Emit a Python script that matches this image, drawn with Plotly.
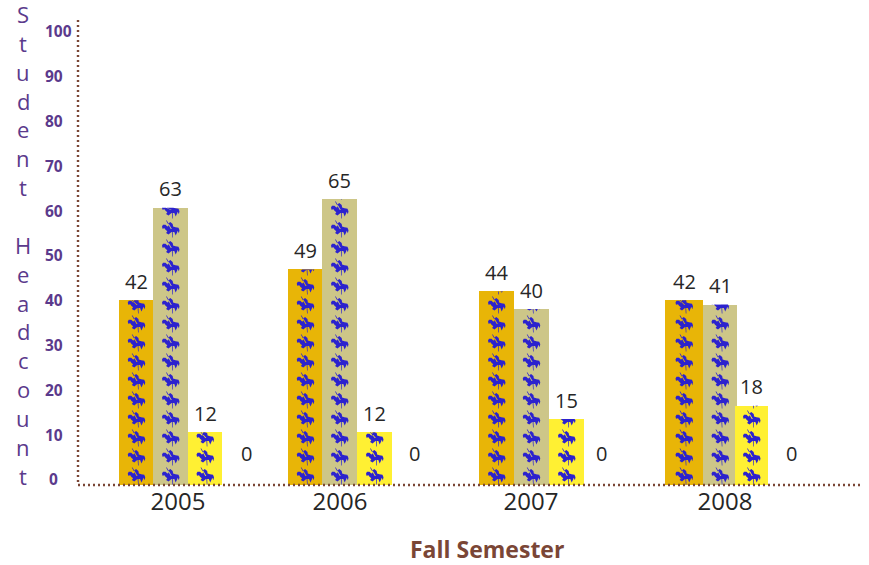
import plotly.graph_objects as go

# ---- data ----
years = ["2005", "2006", "2007", "2008"]
series_a = [42, 49, 44, 42]
series_b = [63, 65, 40, 41]
series_c = [12, 12, 15, 18]
series_d = [0, 0, 0, 0]
y_ticks = [0, 10, 20, 30, 40, 50, 60, 70, 80, 90, 100]
y_title = "Student Headcount"
x_title = "Fall Semester"

# ---- layout / style (screen-pixel based x axis) ----
W, H = 869, 565
LEFT, RIGHT, TOP, BOTTOM = 78, 862, 20, 485
PX_PER_UNIT = 4.40
COLORS = ["#E8B507", "#CDC688", "#FFF033", "#FFFFFF"]
RIDER = "#2C22CE"
PURPLE = "#5B3A8C"
BROWN = "#7A4636"
INK = "#262626"
FONT = "Open Sans"
# left edge and width of each bar: one row per series, one column per year
lefts = [[119, 288, 479, 665], [153, 322, 514, 703], [188, 357, 549, 735], [229, 397, 584, 774]]
widths = [[34.5, 34.5, 35, 38], [35, 35, 34.5, 34], [34, 35, 35, 33], [34, 34, 34, 34]]
year_centers = [178, 340, 531, 725]
values = [series_a, series_b, series_c, series_d]

HORSE = [(-8.5, 2.5), (-7.5, 4.2), (-5, 4.2), (-3.2, 2.5), (-2, 3), (-2.2, 5.5), (-0.2, 7),
         (2.2, 5), (2.6, 2.5), (5, 1.8), (8, 1.2), (9, -1.2), (8.4, -4.2), (7.2, -1.7), (6.6, -3.4),
         (5.2, -6.4), (3.8, -3), (1, -3), (-2, -5.5), (-4.4, -3.9), (-3.2, -2.2), (-5, -0.8),
         (-6, 0.7), (-8, 0.2)]
LANCE = [(-4.5, 8.5), (-3.7, 8.5), (1.3, 0), (0.3, 0)]
TAIL = [(1.4, -3), (2.2, -3), (2.4, -8.5), (1.8, -8.5)]


def rider_path(cx, cy_units, top):
    d = ""
    for poly in (HORSE, LANCE, TAIL):
        pts = [(cx + px, min(cy_units + py / PX_PER_UNIT, top)) for px, py in poly]
        d += "M" + " L".join(f"{a:.2f},{b:.3f}" for a, b in pts) + " Z "
    return d


fig = go.Figure()
shapes = []
for s, vals in enumerate(values):
    centers = [l + w / 2 for l, w in zip(lefts[s], widths[s])]
    fig.add_trace(go.Bar(x=centers, y=vals, width=widths[s], marker_color=COLORS[s],
                         marker_line_width=0, showlegend=False, hoverinfo="skip"))
    for cx, v in zip(centers, vals):
        k = 0
        while v > 0 and (19 * k) / PX_PER_UNIT < v:
            cy = (9 + 19 * k) / PX_PER_UNIT
            shapes.append(dict(type="path", xref="x", yref="y", path=rider_path(cx, cy, v),
                               fillcolor=RIDER, line_width=0))
            k += 1

annotations = []
for s, vals in enumerate(values):
    centers = [l + w / 2 for l, w in zip(lefts[s], widths[s])]
    for cx, v in zip(centers, vals):
        annotations.append(dict(x=cx, y=v, xref="x", yref="y", text=str(v), showarrow=False,
                                yanchor="middle", yshift=32 if v == 0 else 19,
                                font=dict(family=FONT, size=20, color=INK)))

letter_step = 28.85
row = 0
for ch in y_title:
    if ch != " ":
        annotations.append(dict(x=23 / W, y=1 - (14 + row * letter_step) / H, xref="paper", yref="paper",
                                text=ch, showarrow=False, xanchor="center", yanchor="middle",
                                font=dict(family=FONT, size=22, color=PURPLE)))
    row += 1
annotations.append(dict(x=487 / W, y=1 - 549 / H, xref="paper", yref="paper", text=f"<b>{x_title}</b>",
                        showarrow=False, xanchor="center", yanchor="middle",
                        font=dict(family=FONT, size=23, color=BROWN)))

# dotted axis lines
for x0, y0, x1, y1 in [(LEFT, TOP, LEFT, BOTTOM), (LEFT, BOTTOM, RIGHT, BOTTOM)]:
    shapes.append(dict(type="line", xref="paper", yref="paper", x0=x0 / W, x1=x1 / W,
                       y0=1 - y0 / H, y1=1 - y1 / H, layer="above",
                       line=dict(color=BROWN, width=2.4, dash="2px,3px")))

# invisible trace so the second axis (the printed scale) is drawn
fig.add_trace(go.Scatter(x=[LEFT, LEFT], y=[y_ticks[0], y_ticks[-1]], yaxis="y2", mode="markers",
                         marker=dict(opacity=0), showlegend=False, hoverinfo="skip"))

fig.update_layout(
    width=W, height=H, autosize=False, margin=dict(l=0, r=0, t=0, b=0),
    paper_bgcolor="white", plot_bgcolor="white", barmode="overlay", bargap=0,
    xaxis=dict(domain=[LEFT / W, RIGHT / W], range=[LEFT, RIGHT], showgrid=False, zeroline=False,
               showline=False, ticks="", tickmode="array", tickvals=year_centers, ticktext=years,
               tickfont=dict(family=FONT, size=24, color=INK), anchor="y", automargin=False),
    yaxis=dict(domain=[1 - BOTTOM / H, 1 - TOP / H], range=[0, (BOTTOM - TOP) / PX_PER_UNIT], showgrid=False,
               zeroline=False, showline=False, showticklabels=False, ticks="", anchor="x", automargin=False),
    yaxis2=dict(overlaying="y", side="right", anchor="free", position=44 / W, automargin=False,
                range=[-5 / 4.48, 460 / 4.48], showgrid=False, zeroline=False, showline=False,
                ticks="", tickmode="array", tickvals=y_ticks,
                ticktext=["\u00a0" + str(t) if t == 0 else str(t) for t in y_ticks],
                tickfont=dict(family=FONT, size=15.5, color=PURPLE, weight="bold")),
    shapes=shapes, annotations=annotations,
)
fig.write_html("out.html", config=dict(displayModeBar=False),
               post_script="document.body.style.margin='0';document.body.style.overflow='hidden';")
